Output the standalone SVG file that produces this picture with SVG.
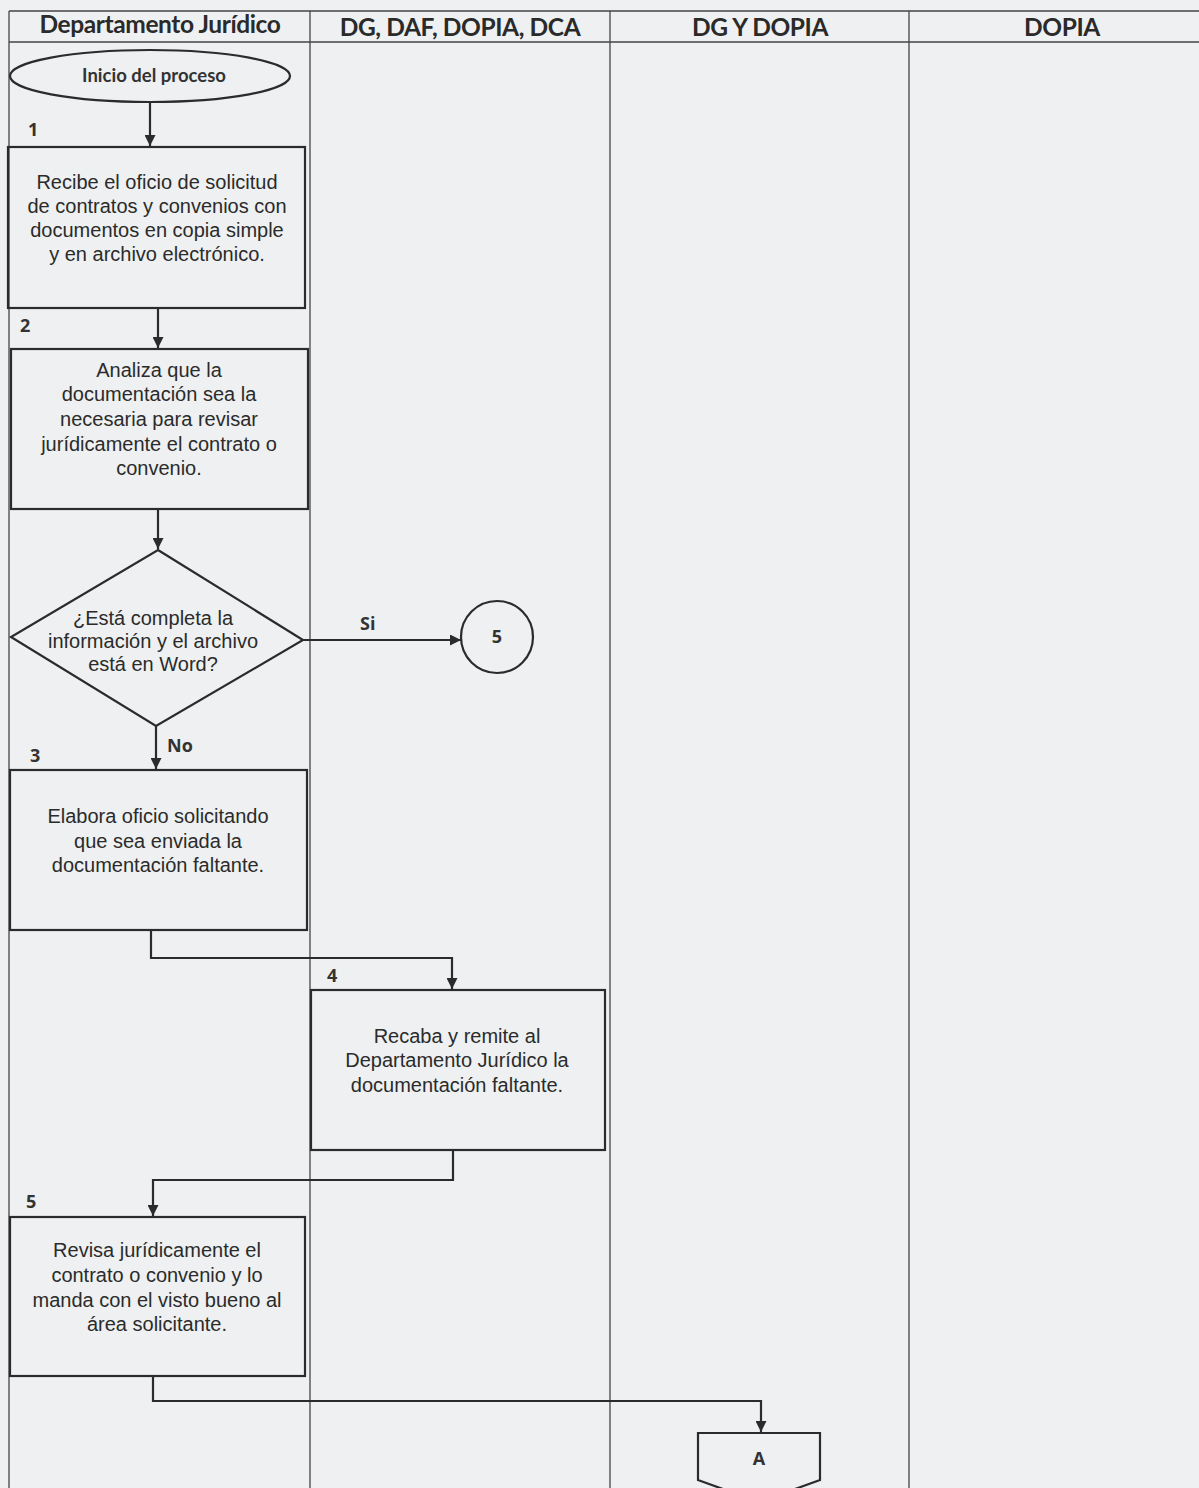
<svg xmlns="http://www.w3.org/2000/svg" width="1199" height="1488" viewBox="0 0 1199 1488">
<style>
.lane{stroke:#444;stroke-width:1.3;fill:none}
.hdr{font-family:Lato,"Liberation Sans",sans-serif;font-weight:700;font-size:24.5px;fill:#2a2a2a;text-anchor:middle;letter-spacing:-0.4px}
.box{fill:none;stroke:#2b2b2b;stroke-width:2.2}
.t{font-family:"Liberation Sans",Arial,sans-serif;font-size:20px;fill:#2b2b2b;text-anchor:middle}
.num{font-family:"Open Sans","Liberation Sans",sans-serif;font-weight:700;font-size:18px;fill:#333}
.edge{fill:none;stroke:#2b2b2b;stroke-width:2.2}
</style>
<defs>
<marker id="ah" viewBox="0 0 10 10" refX="10" refY="5" markerWidth="12" markerHeight="11" orient="auto" markerUnits="userSpaceOnUse">
<path d="M0,0 L10,5 L0,10 z" fill="#2b2b2b"/>
</marker>
</defs>
<rect width="1199" height="1488" fill="#eef0f1"/>
<g id="lanes">
<line class="lane" x1="9" y1="11" x2="1199" y2="11"/>
<line class="lane" x1="9" y1="42" x2="1199" y2="42"/>
<line class="lane" x1="9" y1="11" x2="9" y2="1488"/>
<line class="lane" x1="310" y1="11" x2="310" y2="1488"/>
<line class="lane" x1="610" y1="11" x2="610" y2="1488"/>
<line class="lane" x1="909" y1="11" x2="909" y2="1488"/>
<text class="hdr" x="160" y="33">Departamento Jurídico</text>
<text class="hdr" x="460" y="36">DG, DAF, DOPIA, DCA</text>
<text class="hdr" x="760" y="36">DG Y DOPIA</text>
<text class="hdr" x="1062" y="36">DOPIA</text>
</g>
<g id="connectors">
<line class="edge" x1="150" y1="102" x2="150" y2="146" marker-end="url(#ah)"/>
<line class="edge" x1="158" y1="308" x2="158" y2="348" marker-end="url(#ah)"/>
<line class="edge" x1="158" y1="509" x2="158" y2="549" marker-end="url(#ah)"/>
<line class="edge" x1="303" y1="640" x2="461" y2="640" marker-end="url(#ah)"/>
<line class="edge" x1="156" y1="726" x2="156" y2="769" marker-end="url(#ah)"/>
<polyline class="edge" points="151,930 151,958 452,958 452,989" marker-end="url(#ah)"/>
<polyline class="edge" points="453,1150 453,1180 153,1180 153,1216" marker-end="url(#ah)"/>
<polyline class="edge" points="153,1376 153,1401 761,1401 761,1432" marker-end="url(#ah)"/>
<text class="num" x="360" y="630">Si</text>
<text class="num" x="167" y="752">No</text>
</g>
<g id="start">
<ellipse class="box" cx="150" cy="76" rx="140" ry="26"/>
<text x="154" y="82" font-family="Lato,'Liberation Sans',sans-serif" font-weight="700" font-size="18.5" fill="#333" text-anchor="middle">Inicio del proceso</text>
</g>
<g id="step1">
<text class="num" x="28" y="136">1</text>
<rect class="box" x="8" y="147" width="297" height="161"/>
<text class="t" x="157" y="189">Recibe el oficio de solicitud</text>
<text class="t" x="157" y="213">de contratos y convenios con</text>
<text class="t" x="157" y="237">documentos en copia simple</text>
<text class="t" x="157" y="261">y en archivo electrónico.</text>
</g>
<g id="step2">
<text class="num" x="20" y="332">2</text>
<rect class="box" x="11" y="349" width="297" height="160"/>
<text class="t" x="159" y="377">Analiza que la</text>
<text class="t" x="159" y="401">documentación sea la</text>
<text class="t" x="159" y="426">necesaria para revisar</text>
<text class="t" x="159" y="451">jurídicamente el contrato o</text>
<text class="t" x="159" y="475">convenio.</text>
</g>
<g id="decision">
<polygon class="box" points="158,550 303,640 156,726 11,637"/>
<text class="t" x="153" y="625">¿Está completa la</text>
<text class="t" x="153" y="648">información y el archivo</text>
<text class="t" x="153" y="671">está en Word?</text>
</g>
<g id="conn5">
<circle class="box" cx="497" cy="637" r="36"/>
<text class="num" x="497" y="643" text-anchor="middle" font-size="16">5</text>
</g>
<g id="step3">
<text class="num" x="30" y="762">3</text>
<rect class="box" x="10" y="770" width="297" height="160"/>
<text class="t" x="158" y="823">Elabora oficio solicitando</text>
<text class="t" x="158" y="848">que sea enviada la</text>
<text class="t" x="158" y="872">documentación faltante.</text>
</g>
<g id="step4">
<text class="num" x="327" y="982">4</text>
<rect class="box" x="311" y="990" width="294" height="160"/>
<text class="t" x="457" y="1043">Recaba y remite al</text>
<text class="t" x="457" y="1067">Departamento Jurídico la</text>
<text class="t" x="457" y="1092">documentación faltante.</text>
</g>
<g id="step5">
<text class="num" x="26" y="1208">5</text>
<rect class="box" x="10" y="1217" width="295" height="159"/>
<text class="t" x="157" y="1257">Revisa jurídicamente el</text>
<text class="t" x="157" y="1282">contrato o convenio y lo</text>
<text class="t" x="157" y="1307">manda con el visto bueno al</text>
<text class="t" x="157" y="1331">área solicitante.</text>
</g>
<g id="offpageA">
<polygon class="box" points="698,1433 820,1433 820,1480 759,1502 698,1480"/>
<text class="num" x="759" y="1465" text-anchor="middle" font-size="19">A</text>
</g>
</svg>
